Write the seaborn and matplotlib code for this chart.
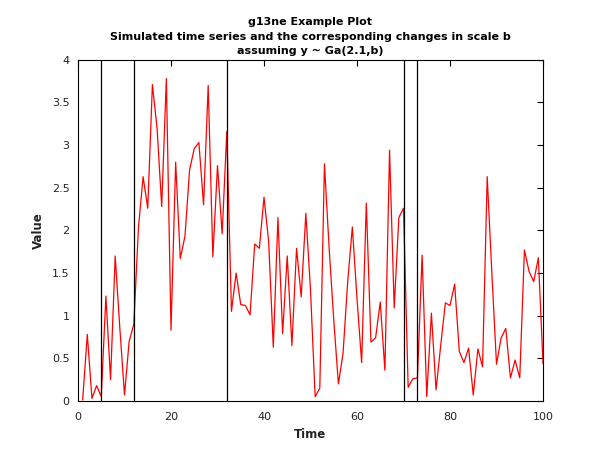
import numpy as np
import pandas as pd
import seaborn as sns
import matplotlib
matplotlib.use("Agg")
import matplotlib.pyplot as plt

# simulated series, t = 1..100
time = list(range(1, 101))
value = [
    0.01, 0.78, 0.03, 0.18, 0.05, 1.23, 0.25, 1.70, 0.85, 0.07,
    0.70, 0.90, 2.03, 2.63, 2.26, 3.71, 3.20, 2.28, 3.78, 0.83,
    2.80, 1.67, 1.93, 2.71, 2.96, 3.03, 2.30, 3.70, 1.69, 2.76,
    1.96, 3.16, 1.05, 1.50, 1.13, 1.12, 1.01, 1.84, 1.79, 2.39,
    1.87, 0.63, 2.15, 0.79, 1.70, 0.65, 1.79, 1.22, 2.20, 1.30,
    0.05, 0.15, 2.78, 1.80, 0.95, 0.20, 0.56, 1.40, 2.04, 1.20,
    0.45, 2.32, 0.69, 0.74, 1.16, 0.36, 2.94, 1.09, 2.15, 2.26,
    0.16, 0.26, 0.27, 1.71, 0.05, 1.03, 0.13, 0.65, 1.15, 1.12,
    1.37, 0.58, 0.45, 0.62, 0.07, 0.61, 0.40, 2.63, 1.50, 0.43,
    0.74, 0.85, 0.27, 0.48, 0.27, 1.77, 1.52, 1.40, 1.68, 0.44,
]
# detected change points
change_points = [5, 12, 32, 70, 73]

x_ticks = [0, 20, 40, 60, 80, 100]
y_ticks = [0, 0.5, 1, 1.5, 2, 2.5, 3, 3.5, 4]
y_labels = ["0", "0.5", "1", "1.5", "2", "2.5", "3", "3.5", "4"]

sns.set_style("white")
plt.rcParams["font.family"] = ["DejaVu Sans"]

df = pd.DataFrame({"Time": time, "Value": value})

fig = plt.figure(figsize=(6, 4.5), dpi=100)
ax = fig.add_axes([0.13, 0.109, 0.775, 0.758])

sns.lineplot(data=df, x="Time", y="Value", color="red", linewidth=0.9, ax=ax)

for cp in change_points:
    ax.axvline(cp, color="black", linewidth=0.9)

ax.set_xlim(0, 100)
ax.set_ylim(0, 4)
ax.set_xticks(x_ticks)
ax.set_yticks(y_ticks)
ax.set_yticklabels(y_labels)
ax.tick_params(direction="in", top=True, right=True, labelsize=8,
               length=4, width=0.8, colors="black", labelcolor="#222222")
ax.tick_params(axis="x", pad=8)
ax.tick_params(axis="y", pad=6)
for s in ax.spines.values():
    s.set_visible(True)
    s.set_color("black")
    s.set_linewidth(0.8)

ax.set_xlabel("Time", fontsize=8.5, fontweight="bold", labelpad=4,
              color="#222222")
ax.set_ylabel("Value", fontsize=8.5, fontweight="bold", labelpad=5,
              color="#222222")
ax.set_title("g13ne Example Plot\n"
             "Simulated time series and the corresponding changes in scale b\n"
             "assuming y ~ Ga(2.1,b)",
             fontsize=8, fontweight="bold", linespacing=1.55, pad=4,
             color="black")

fig.savefig("out.png", dpi=100)
